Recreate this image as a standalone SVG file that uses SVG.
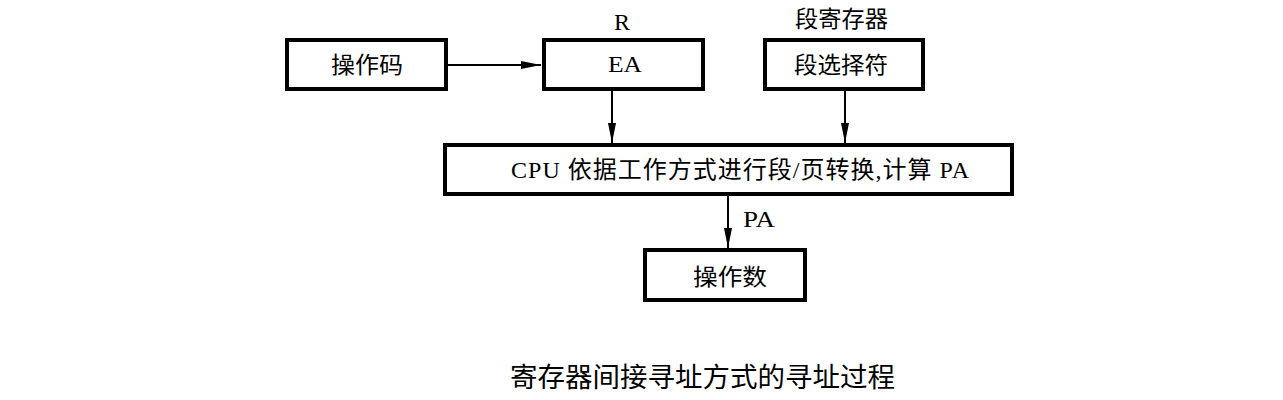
<svg xmlns="http://www.w3.org/2000/svg" width="1283" height="400" viewBox="0 0 1283 400">
<style>
.box{fill:#fff;stroke:#000;stroke-width:4}
.t{font-family:"Liberation Serif","Noto Sans CJK SC",serif;font-size:24px;fill:#000}
.c{font-family:"Liberation Serif","Noto Sans CJK SC",serif;font-size:23px;fill:#000}
.cap{font-family:"Noto Sans CJK SC","Liberation Sans",sans-serif;font-size:27px;fill:#000}
.ln{stroke:#000;stroke-width:2;fill:none}
</style>
<defs>
<marker id="ah" markerUnits="userSpaceOnUse" markerWidth="20" markerHeight="10" refX="20" refY="5" orient="auto">
<path d="M0,1 L20,5 L0,9 Z" fill="#000"/>
</marker>
</defs>
<rect width="1283" height="400" fill="#fff"/>
<g id="connectors">
<line class="ln" x1="448" y1="65" x2="541" y2="65" marker-end="url(#ah)"/>
<line class="ln" x1="612" y1="91" x2="612" y2="143" marker-end="url(#ah)"/>
<line class="ln" x1="845" y1="91" x2="845" y2="143" marker-end="url(#ah)"/>
<line class="ln" x1="728" y1="196" x2="728" y2="248" marker-end="url(#ah)"/>
<text class="t" x="743" y="227" textLength="32" lengthAdjust="spacingAndGlyphs">PA</text>
</g>
<g id="opcode">
<rect class="box" x="287" y="40" width="159" height="49"/>
<text class="c" x="331" y="73" textLength="72" lengthAdjust="spacingAndGlyphs">操作码</text>
</g>
<g id="ea">
<rect class="box" x="544" y="40" width="159" height="49"/>
<text class="t" x="608" y="72" textLength="34" lengthAdjust="spacingAndGlyphs">EA</text>
<text class="t" x="614" y="30" font-size="22">R</text>
</g>
<g id="segsel">
<rect class="box" x="765" y="40" width="158" height="49"/>
<text class="c" x="794" y="73" textLength="94" lengthAdjust="spacingAndGlyphs">段选择符</text>
<text class="c" x="795" y="27" textLength="93" lengthAdjust="spacingAndGlyphs">段寄存器</text>
</g>
<g id="cpu">
<rect class="box" x="445" y="145" width="567" height="49"/>
<text class="t" x="511" y="178" textLength="458" lengthAdjust="spacing">CPU 依据工作方式进行段/页转换,计算 PA</text>
</g>
<g id="operand">
<rect class="box" x="645" y="250" width="160" height="50"/>
<text class="c" x="693" y="285" textLength="74" lengthAdjust="spacingAndGlyphs">操作数</text>
</g>
<text class="cap" x="510" y="387" textLength="385" lengthAdjust="spacingAndGlyphs">寄存器间接寻址方式的寻址过程</text>
</svg>
